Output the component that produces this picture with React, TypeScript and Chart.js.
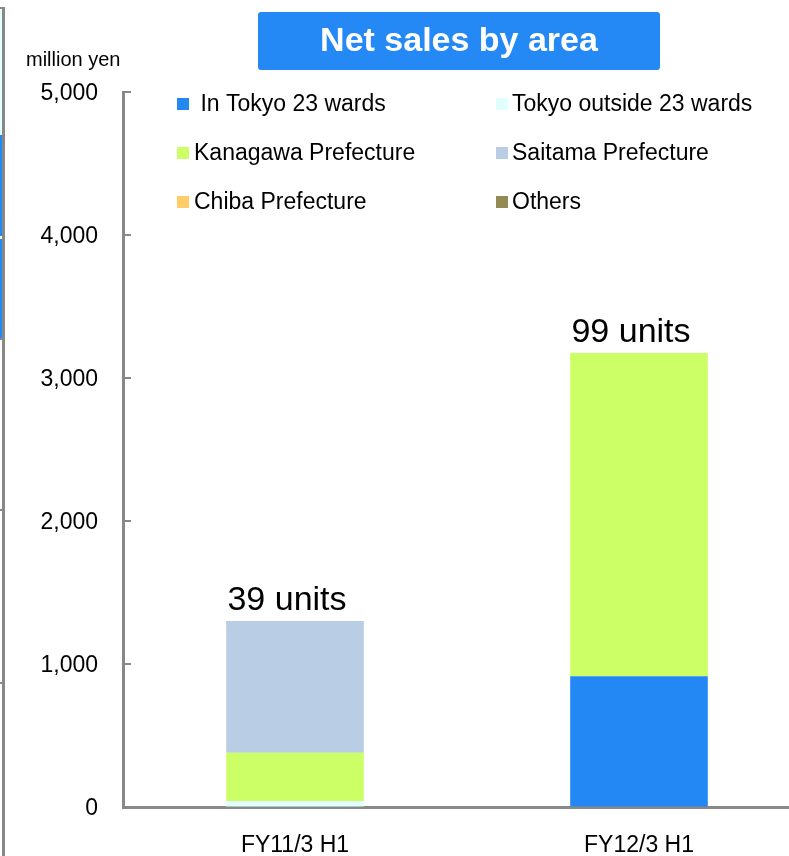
import React, { useEffect, useRef } from "react";
import { Chart, registerables } from "chart.js";

Chart.register(...registerables);

const categories = ["FY11/3 H1", "FY12/3 H1"];
const seriesNames = [
  " In Tokyo 23 wards",
  "Tokyo outside 23 wards",
  "Kanagawa Prefecture",
  "Saitama Prefecture",
  "Chiba Prefecture",
  "Others",
];
const seriesColors = ["#2388f4", "#e0ffff", "#ccff66", "#b9cde5", "#ffcc66", "#948a54"];
const tokyo23 = [0, 915];
const tokyoOutside = [40, 0];
const kanagawa = [340, 2260];
const saitama = [920, 0];
const chiba = [0, 0];
const others = [0, 0];
const unitLabels = ["39 units", "99 units"];
const yTicks = [0, 1000, 2000, 3000, 4000, 5000];
const titleText = "Net sales by area";
const unitText = "million yen";

const FONT = '"Liberation Sans", Arial, sans-serif';
const AXIS = "#888888";

const decorPlugin = {
  id: "decor",
  afterDraw(chart: any) {
    const ctx = chart.ctx as CanvasRenderingContext2D;
    const area = chart.chartArea;
    const ys = chart.scales.y;
    const xs = chart.scales.x;
    ctx.save();

    // left-edge fragments
    ctx.fillStyle = "#e0ffff";
    ctx.fillRect(0, 10, 2, 123);
    ctx.fillStyle = "#2388f4";
    ctx.fillRect(0, 135, 2, 101);
    ctx.fillRect(0, 239, 2, 99);
    ctx.fillStyle = AXIS;
    ctx.fillRect(2, 7, 3, 849);
    ctx.fillRect(0, 7, 4, 2);
    ctx.fillRect(0, 338, 3, 2);
    ctx.fillRect(0, 509, 3, 2);
    ctx.fillRect(0, 682, 3, 2);

    // inward y tick marks
    ctx.strokeStyle = AXIS;
    ctx.lineWidth = 2;
    yTicks.forEach((v) => {
      if (v === 0) return;
      const y = Math.round(ys.getPixelForValue(v));
      ctx.beginPath();
      ctx.moveTo(area.left, y);
      ctx.lineTo(area.left + 8, y);
      ctx.stroke();
    });

    // title box
    ctx.fillStyle = "#2589f5";
    ctx.beginPath();
    (ctx as any).roundRect(258, 12, 402, 58, 3);
    ctx.fill();
    ctx.fillStyle = "#ffffff";
    ctx.font = `bold 34px ${FONT}`;
    ctx.textAlign = "center";
    ctx.textBaseline = "middle";
    ctx.fillText(titleText, 459, 42);

    // unit label
    ctx.fillStyle = "#000";
    ctx.font = `20px ${FONT}`;
    ctx.textAlign = "left";
    ctx.textBaseline = "alphabetic";
    ctx.fillText(unitText, 26, 66);

    // legend (two columns)
    ctx.font = `23px ${FONT}`;
    ctx.textBaseline = "middle";
    chart.data.datasets.forEach((ds: any, i: number) => {
      const col = i % 2;
      const row = Math.floor(i / 2);
      const sx = col === 0 ? 177 : 496;
      const cy = 104 + row * 49;
      ctx.fillStyle = ds.backgroundColor;
      ctx.fillRect(sx, cy - 6, 12, 12);
      ctx.fillStyle = "#000";
      ctx.fillText(ds.label, sx + (col === 0 ? 17 : 16), cy + 1);
    });

    // unit annotations above the stacks
    ctx.font = `34px ${FONT}`;
    ctx.textAlign = "center";
    ctx.textBaseline = "alphabetic";
    categories.forEach((_, i) => {
      let total = 0;
      chart.data.datasets.forEach((ds: any) => (total += ds.data[i]));
      const x = xs.getPixelForValue(i);
      const y = ys.getPixelForValue(total);
      ctx.fillText(unitLabels[i], x - 8, y - 11);
    });

    ctx.restore();
  },
};

export default function App() {
  const ref = useRef<HTMLCanvasElement>(null);
  useEffect(() => {
    if (!ref.current) return;
    const values = [tokyo23, tokyoOutside, kanagawa, saitama, chiba, others];
    const chart = new Chart(ref.current, {
      type: "bar",
      data: {
        labels: categories,
        datasets: seriesNames.map((name, i) => ({
          label: name,
          data: values[i],
          backgroundColor: seriesColors[i],
          borderWidth: 0,
          categoryPercentage: 1,
          barPercentage: 0.4,
        })),
      },
      options: {
        responsive: false,
        maintainAspectRatio: false,
        animation: false,
        devicePixelRatio: 1,
        layout: { padding: { top: 92, left: 0, right: 0, bottom: 0 } },
        plugins: {
          legend: { display: false },
          title: { display: false },
          tooltip: { enabled: false },
        },
        scales: {
          x: {
            stacked: true,
            grid: { drawOnChartArea: false, drawTicks: false },
            border: { color: AXIS, width: 3 },
            ticks: { color: "#000", font: { family: FONT, size: 23 }, padding: 25 },
            afterFit: (s: any) => {
              s.height = 49;
            },
          },
          y: {
            stacked: true,
            min: 0,
            max: 5000,
            grid: { drawOnChartArea: false, drawTicks: false },
            border: { color: AXIS, width: 3 },
            ticks: {
              stepSize: 1000,
              color: "#000",
              padding: 25,
              labelOffset: 2,
              font: { family: FONT, size: 23 },
              callback: (v: any) => Number(v).toLocaleString("en-US"),
            },
            afterFit: (s: any) => {
              s.width = 123;
            },
          },
        },
      },
      plugins: [decorPlugin],
    });
    return () => chart.destroy();
  }, []);

  return (
    <div
      style={{
        position: "absolute",
        left: 0,
        top: 0,
        width: 789,
        height: 856,
        overflow: "hidden",
        background: "#fff",
      }}
    >
      <canvas ref={ref} width={811} height={856} style={{ width: 811, height: 856, display: "block" }} />
    </div>
  );
}
